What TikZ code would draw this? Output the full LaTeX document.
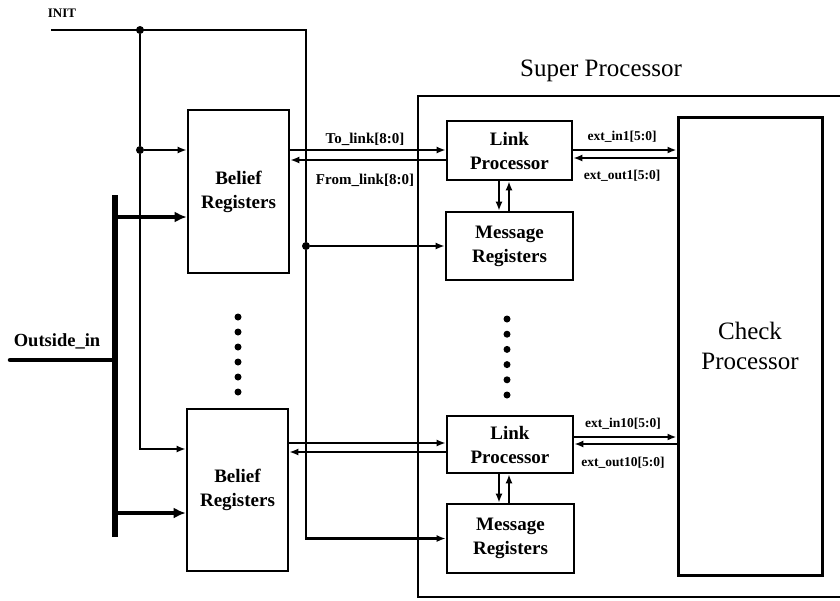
\documentclass[tikz,border=0pt]{standalone}
\usepackage{fontspec}
\setmainfont{Liberation Serif}
\usetikzlibrary{arrows.meta}
\begin{document}
\begin{tikzpicture}[x=1pt,y=-1pt,
  box/.style={draw,line width=2.6pt,inner sep=0pt,align=center,font=\bfseries\fontsize{19}{24}\selectfont},
  wire/.style={line width=2.2pt},
  arr/.style={line width=2.2pt,-{Latex[length=9pt,width=7pt]}},
  busarr/.style={line width=4pt,-{Latex[length=12pt,width=11pt]}},
  dot/.style={circle,fill,inner sep=0pt,minimum size=8pt},
  edot/.style={circle,fill,inner sep=0pt,minimum size=7pt},
  sig/.style={font=\bfseries\fontsize{15}{17}\selectfont,inner sep=0pt},
  ext/.style={font=\bfseries\fontsize{13.5}{15}\selectfont,inner sep=0pt}]
\useasboundingbox (0,0) rectangle (840,600);
% super processor frame
\draw[line width=2.4pt] (845,96) -- (418,96) -- (418,597) -- (845,597);
\node[font=\fontsize{25}{28}\selectfont,inner sep=0pt] (sp) at (601,71) {Super Processor};
% boxes
\node[box,minimum width=101pt,minimum height=163pt] (BR1) at (238.5,191.5) {Belief\\Registers};
\node[box,minimum width=101pt,minimum height=162pt] (BR2) at (237.5,490) {Belief\\Registers};
\node[box,minimum width=125pt,minimum height=59pt] (LP1) at (509.5,150.5) {Link\\Processor};
\node[box,minimum width=127pt,minimum height=68pt] (MR1) at (509.5,246) {Message\\Registers};
\node[box,minimum width=126pt,minimum height=57pt] (LP2) at (510,444.5) {Link\\Processor};
\node[box,minimum width=127pt,minimum height=69pt] (MR2) at (510.5,538.5) {Message\\Registers};
\node[draw,line width=3pt,minimum width=144pt,minimum height=458pt,inner sep=0pt,align=center,
  font=\fontsize{25}{30}\selectfont] (CP) at (750,346) {Check\\Processor};
% INIT net
\node[font=\bfseries\fontsize{13}{14}\selectfont,inner sep=0pt] (init) at (62,13) {INIT};
\coordinate (i0) at (51,30);
\node[dot] (j1) at (140,30) {};
\node[dot] (j2) at (140,150) {};
\node[dot] (j3) at (306,246) {};
\draw[wire] (i0) -- (306,30) -- (j3);
\draw[arr] (j3) |- (MR2.west);
\draw[arr] (j3) -- (MR1.west);
\draw[wire] (j1) -- (j2);
\draw[arr] (j2) -- ([yshift=41.5pt]BR1.west);
\draw[arr] (j2) |- ([yshift=41pt]BR2.west);
% Outside_in bus
\coordinate (bt) at (115,195);
\coordinate (bb) at (115,537);
\coordinate (bm) at (115,360);
\coordinate (oi) at (10,360);
\draw[line width=6.5pt] (bt) -- (bb);
\draw[line width=4.5pt,line cap=round] (oi) -- (bm);
\node[font=\bfseries\fontsize{18.5}{20}\selectfont,inner sep=0pt] (oil) at (57,341) {Outside\_in};
\draw[busarr] (115,217) -- ([yshift=-25.5pt]BR1.west);
\draw[busarr] (115,513) -- ([yshift=-23pt]BR2.west);
% links top
\draw[arr,line width=2.8pt] ([yshift=41.5pt]BR1.east) -- ([yshift=0.5pt]LP1.west);
\draw[arr] ([yshift=-9.5pt]LP1.west) -- ([yshift=31.5pt]BR1.east);
\node[sig] (tl1) at (365,139) {To\_link[8:0]};
\node[sig] (fl1) at (365,180) {From\_link[8:0]};
\draw[arr,line width=2.8pt] ([yshift=0.5pt]LP1.east) -- ([yshift=196pt]CP.west);
\draw[arr] ([yshift=188pt]CP.west) -- ([yshift=-7.5pt]LP1.east);
\node[ext] (ei1) at (622,137) {ext\_in1[5:0]};
\node[ext] (eo1) at (622,176) {ext\_out1[5:0]};
\draw[arr] ([xshift=-10.5pt]LP1.south) -- ([xshift=-10.5pt]MR1.north);
\draw[arr] ([xshift=-0.5pt]MR1.north) -- ([xshift=-0.5pt]LP1.south);
% links bottom
\draw[arr,line width=2.8pt] ([yshift=47pt]BR2.east) -- ([yshift=1.5pt]LP2.west);
\draw[arr] ([yshift=-7.5pt]LP2.west) -- ([yshift=38pt]BR2.east);
\draw[arr,line width=2.8pt] ([yshift=7.5pt]LP2.east) -- ([yshift=-91pt]CP.west);
\draw[arr] ([yshift=-98pt]CP.west) -- ([yshift=0.5pt]LP2.east);
\node[ext] (ei2) at (623,424) {ext\_in10[5:0]};
\node[ext] (eo2) at (623,463) {ext\_out10[5:0]};
\draw[arr] ([xshift=-11pt]LP2.south) -- ([xshift=-11.5pt]MR2.north);
\draw[arr] ([xshift=-1.5pt]MR2.north) -- ([xshift=-1pt]LP2.south);
% ellipsis dots
\foreach \k in {0,...,5} {
  \node[edot] (bd\k) at (238,317+15*\k) {};
  \node[edot] (sd\k) at (507,319+15.2*\k) {};
}
\end{tikzpicture}
\end{document}
